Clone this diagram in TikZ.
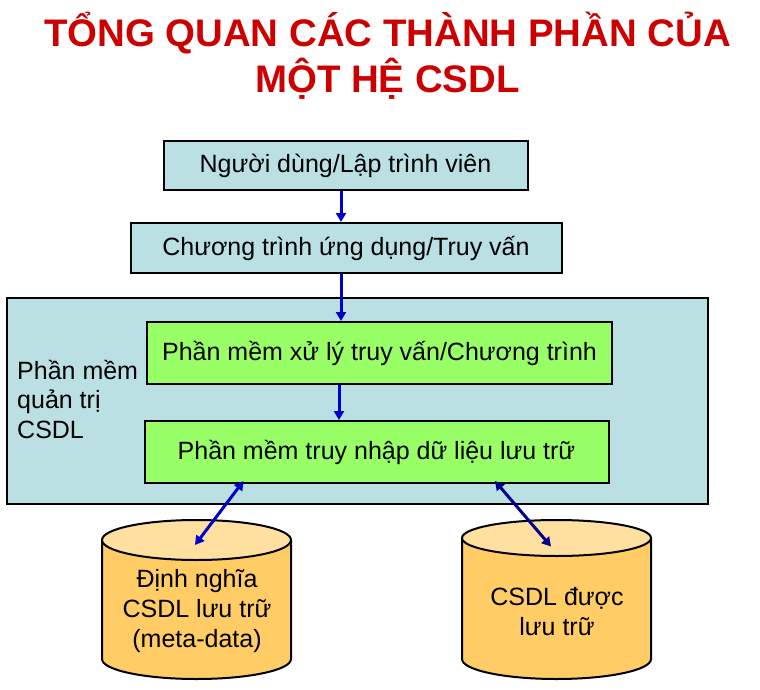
\documentclass[tikz,border=0pt]{standalone}
\usepackage{fontspec}
\setmainfont{Liberation Sans}
\usetikzlibrary{arrows.meta}
\definecolor{lblue}{HTML}{BAE0E3}
\definecolor{lgreen}{HTML}{99FF66}
\definecolor{cylbody}{HTML}{FFCC66}
\definecolor{cyltop}{HTML}{FFE0A0}
\definecolor{titlered}{HTML}{CC0000}
\definecolor{arrblue}{HTML}{0000CC}
\definecolor{arrnavy}{HTML}{00008C}
\tikzset{
  bluebox/.style={draw=black, line width=2pt, fill=lblue, inner sep=0pt, font=\fontsize{25}{30}\selectfont},
  greenbox/.style={draw=black, line width=2pt, fill=lgreen, inner sep=0pt, font=\fontsize{25}{30}\selectfont},
  bigbox/.style={draw=black, line width=2pt, fill=lblue, inner sep=0pt},
  cyltext/.style={align=center, inner sep=0pt, font=\fontsize{25}{30}\selectfont},
  arr/.style={draw=arrblue, line width=3pt, -{Triangle[length=9pt,width=10pt]}},
  darr/.style={line width=3pt, {Triangle[length=9pt,width=10pt]}-{Triangle[length=9pt,width=10pt]}},
  cylline/.style={draw=black, line width=2pt},
}
\begin{document}
\begin{tikzpicture}[x=1pt,y=1pt]
\useasboundingbox (0,0) rectangle (760,-690);
% title
\node[font=\fontsize{38.4}{46}\selectfont\bfseries, text=titlered, align=center] (title) at (387.5,-56) {TỔNG QUAN CÁC THÀNH PHẦN CỦA\\MỘT HỆ CSDL};
% big DBMS box
\node[bigbox, minimum width=701pt, minimum height=206pt] (dbms) at (357.5,-400.5) {};
\node[align=left, anchor=north west, inner sep=0pt, font=\fontsize{25}{29.5}\selectfont] (dbmslabel) at (17,-360) {Phần mềm\\quản trị\\CSDL};
% boxes
\node[bluebox, minimum width=364pt, minimum height=49pt] (user) at (345.5,-165.5) {Người dùng/Lập trình viên};
\node[bluebox, minimum width=431pt, minimum height=50pt] (app) at (346,-248) {Chương trình ứng dụng/Truy vấn};
\node[greenbox, minimum width=465pt, minimum height=62pt] (qp) at (379.5,-353) {Phần mềm xử lý truy vấn/Chương trình};
\node[greenbox, minimum width=464pt, minimum height=62pt] (da) at (376.5,-452) {Phần mềm truy nhập dữ liệu lưu trữ};
% cylinders
\fill[cylbody] (102,-540) -- (102,-659) arc[start angle=180,end angle=360,x radius=94.5,y radius=20] -- (291,-540) -- cycle;
\draw[cylline] (102,-540) -- (102,-659) arc[start angle=180,end angle=360,x radius=94.5,y radius=20] -- (291,-540);
\filldraw[cylline, fill=cyltop] (196.5,-540) ellipse[x radius=94.5, y radius=20];
\fill[cylbody] (462,-538) -- (462,-659) arc[start angle=180,end angle=360,x radius=94.5,y radius=20] -- (651,-538) -- cycle;
\draw[cylline] (462,-538) -- (462,-659) arc[start angle=180,end angle=360,x radius=94.5,y radius=20] -- (651,-538);
\filldraw[cylline, fill=cyltop] (556.5,-538) ellipse[x radius=94.5, y radius=18];
\node[cyltext] (meta) at (197,-611) {Định nghĩa\\CSDL lưu trữ\\(meta-data)};
\node[cyltext] (stored) at (557,-612) {CSDL được\\lưu trữ};
% connector coordinates
\coordinate (c1) at (341,0);
\coordinate (c2) at (339,0);
\coordinate (daL) at (243.5,-481);
\coordinate (metaTop) at (195,-545);
\coordinate (daR) at (495,-481);
\coordinate (storedTop) at (551,-546.5);
% arrows
\draw[arr] (user.south -| c1) -- (app.north -| c1);
\draw[arr] (app.south -| c1) -- (qp.north -| c1);
\draw[arr] (qp.south -| c2) -- (da.north -| c2);
\draw[darr, draw=arrblue, fill=arrblue] (daL) -- (metaTop);
\draw[darr, draw=arrnavy, fill=arrnavy] (daR) -- (storedTop);
\end{tikzpicture}
\end{document}
